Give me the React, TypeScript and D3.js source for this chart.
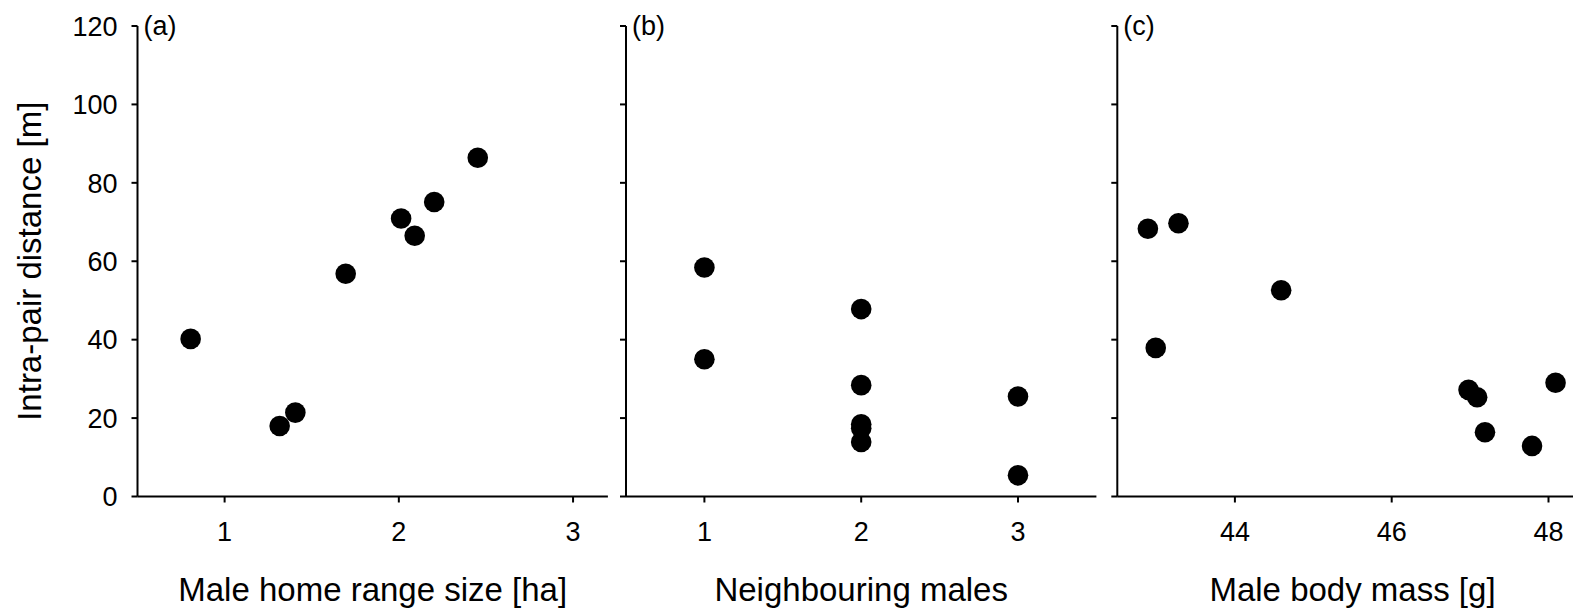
import React from "react";
import * as d3 from "d3";

// ---- data ----
const homeRange = [0.805, 1.316, 1.406, 1.695, 2.013, 2.091, 2.203, 2.453];
const distA = [40.2, 18.0, 21.4, 56.8, 70.9, 66.5, 75.1, 86.4];

const neighbours = [1, 1, 2, 2, 2, 2, 2, 3, 3];
const distB = [58.4, 35.0, 47.8, 28.4, 18.4, 17.4, 13.9, 25.5, 5.4];

const bodyMass = [42.89, 43.28, 42.99, 44.59, 46.98, 47.09, 47.19, 47.79, 48.09];
const distC = [68.3, 69.7, 37.9, 52.6, 27.2, 25.3, 16.4, 12.9, 29.0];

const yTicks = [0, 20, 40, 60, 80, 100, 120];
const ticksA = [1, 2, 3];
const ticksB = [1, 2, 3];
const ticksC = [44, 46, 48];

const titleA = "Male home range size [ha]";
const titleB = "Neighbouring males";
const titleC = "Male body mass [g]";
const yTitle = "Intra-pair distance [m]";

const FONT = "'Liberation Sans', Arial, Helvetica, sans-serif";

const panels = [
  { label: "(a)", xs: homeRange, ys: distA, domain: [0.5, 3.2], ticks: ticksA, title: titleA, left: 137.5, showY: true },
  { label: "(b)", xs: neighbours, ys: distB, domain: [0.5, 3.5], ticks: ticksB, title: titleB, left: 626, showY: false },
  { label: "(c)", xs: bodyMass, ys: distC, domain: [42.5, 48.5], ticks: ticksC, title: titleC, left: 1117.3, showY: false },
];

const W = 1573;
const H = 613;
const PW = 470.4;
const TOP = 26;
const BOTTOM = 496.5;
const TICK = 6;

export default function App() {
  const y = d3.scaleLinear().domain([0, 120]).range([BOTTOM, TOP]);
  return (
    <svg
      width={W}
      height={H}
      style={{ position: "absolute", left: 0, top: 0, background: "#fff", overflow: "hidden" }}
      fontFamily={FONT}
    >
      <rect x={0} y={0} width={W} height={H} fill="#fff" />
      <text
        transform={`translate(41,${(TOP + BOTTOM) / 2}) rotate(-90)`}
        textAnchor="middle"
        fontSize={33}
        fill="#000"
      >
        {yTitle}
      </text>
      {panels.map((p) => {
        const x = d3.scaleLinear().domain(p.domain).range([p.left, p.left + PW]);
        return (
          <g key={p.label}>
            {/* y axis */}
            <line x1={p.left} x2={p.left} y1={TOP} y2={BOTTOM} stroke="#000" strokeWidth={2} />
            {yTicks.map((t) => (
              <g key={t}>
                <line x1={p.left - TICK} x2={p.left} y1={y(t)} y2={y(t)} stroke="#000" strokeWidth={2} />
                {p.showY && (
                  <text x={p.left - 20} y={y(t) + 9.7} textAnchor="end" fontSize={27} fill="#000">
                    {t}
                  </text>
                )}
              </g>
            ))}
            {/* x axis */}
            <line x1={p.left} x2={p.left + PW} y1={BOTTOM} y2={BOTTOM} stroke="#000" strokeWidth={2} />
            {p.ticks.map((t) => (
              <g key={t}>
                <line x1={x(t)} x2={x(t)} y1={BOTTOM} y2={BOTTOM + TICK} stroke="#000" strokeWidth={2} />
                <text x={x(t)} y={541} textAnchor="middle" fontSize={27} fill="#000">
                  {t}
                </text>
              </g>
            ))}
            <text x={p.left + PW / 2} y={601} textAnchor="middle" fontSize={33} fill="#000">
              {p.title}
            </text>
            <text x={p.left + 6} y={34.5} fontSize={27} fill="#000">
              {p.label}
            </text>
            {p.xs.map((v, i) => (
              <circle key={i} cx={x(v)} cy={y(p.ys[i])} r={10.3} fill="#000" />
            ))}
          </g>
        );
      })}
    </svg>
  );
}
